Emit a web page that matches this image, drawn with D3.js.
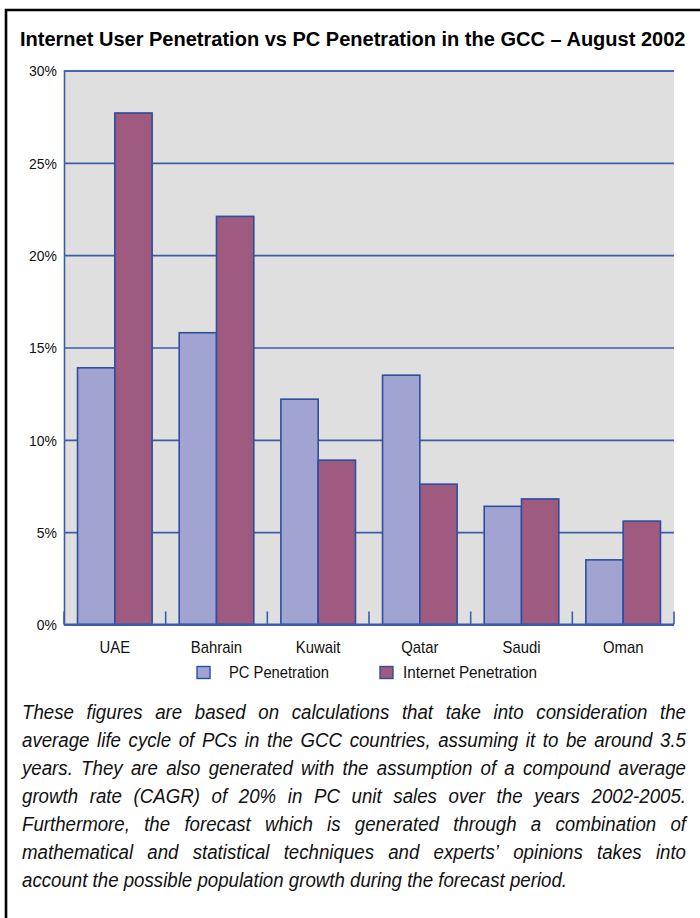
<!DOCTYPE html>
<html>
<head>
<meta charset="utf-8">
<script src="https://cdn.jsdelivr.net/npm/d3@7"></script>
<style>
  html, body { margin: 0; padding: 0; background: #ffffff; }
  svg { display: block; }
</style>
</head>
<body>
<svg id="chart" width="700" height="918"></svg>
<script>
// Penetration rates (%) by GCC country, August 2002
const countries = ["UAE", "Bahrain", "Kuwait", "Qatar", "Saudi", "Oman"];
const pcPenetration = [13.9, 15.8, 12.2, 13.5, 6.4, 3.5];
const internetPenetration = [27.7, 22.1, 8.9, 7.6, 6.8, 5.6];
const seriesNames = ["PC Penetration", "Internet Penetration"];
const yTicks = [0, 5, 10, 15, 20, 25, 30];

const titleText = "Internet User Penetration vs PC Penetration in the GCC \u2013 August 2002";
const captionLines = [
  "These figures are based on calculations that take into consideration the",
  "average life cycle of PCs in the GCC countries, assuming it to be around 3.5",
  "years. They are also generated with the assumption of a compound average",
  "growth rate (CAGR) of 20% in PC unit sales over the years 2002-2005.",
  "Furthermore, the forecast which is generated through a combination of",
  "mathematical and statistical techniques and experts\u2019 opinions takes into",
  "account the possible population growth during the forecast period."
];

const FONT = "'Liberation Sans', Arial, Helvetica, sans-serif";
const colors = { pc: "#a1a4d1", net: "#9f5a7f", edge: "#2d4e9e", grid: "#3d5ca8", plot: "#dfdfdf" };

const svg = d3.select("#chart");

// squeeze a text horizontally about its own anchor x so it spans `width`
function fitWidth(sel, x, width) {
  const w = sel.node().getComputedTextLength();
  const s = width / w;
  sel.attr("transform", `translate(${x},0) scale(${s},1) translate(${-x},0)`);
}
function narrow(sel, x, s) {
  sel.attr("transform", `translate(${x},0) scale(${s},1) translate(${-x},0)`);
}

// outer frame (top and left edges visible)
svg.append("path")
  .attr("d", "M6,930 L6,10 L710,10")
  .attr("fill", "none")
  .attr("stroke", "#000")
  .attr("stroke-width", 2.6);

// title
const title = svg.append("text")
  .attr("x", 20).attr("y", 46)
  .attr("font-family", FONT)
  .attr("font-weight", "bold")
  .attr("font-size", 20.5)
  .attr("fill", "#000")
  .text(titleText);
fitWidth(title, 20, 666);

// plot geometry
const plot = { left: 64, right: 674, top: 70.5, bottom: 624.5 };

const x0 = d3.scaleBand().domain(countries).range([plot.left, plot.right]).padding(0);
const x1 = d3.scaleBand().domain(seriesNames).range([0, x0.bandwidth()])
  .paddingInner(0).paddingOuter(0.363);
const y = d3.scaleLinear().domain([0, 30]).range([plot.bottom, plot.top]);

// plot background
svg.append("rect")
  .attr("x", plot.left).attr("y", plot.top)
  .attr("width", plot.right - plot.left).attr("height", plot.bottom - plot.top)
  .attr("fill", colors.plot);

// horizontal gridlines and percentage labels
const yAxis = d3.axisLeft(y)
  .tickValues(yTicks)
  .tickSize(-(plot.right - plot.left))
  .tickFormat(d => d + "%");
const gy = svg.append("g")
  .attr("transform", `translate(${plot.left},0)`)
  .call(yAxis);
gy.select(".domain").attr("stroke", colors.grid).attr("stroke-width", 1.6);
gy.selectAll(".tick line").attr("stroke", colors.grid).attr("stroke-width", 1.6);
gy.selectAll(".tick text")
  .attr("x", -7)
  .attr("dy", "0.36em")
  .attr("font-family", FONT)
  .attr("font-size", 15)
  .attr("fill", "#111")
  .each(function () { narrow(d3.select(this), -7, 0.93); });

// bars
const rows = countries.map((c, i) => ({
  country: c,
  values: [
    { series: seriesNames[0], value: pcPenetration[i], fill: colors.pc },
    { series: seriesNames[1], value: internetPenetration[i], fill: colors.net }
  ]
}));

svg.append("g").selectAll("g")
  .data(rows)
  .join("g")
  .attr("transform", d => `translate(${x0(d.country)},0)`)
  .selectAll("rect")
  .data(d => d.values)
  .join("rect")
  .attr("x", d => x1(d.series))
  .attr("width", x1.bandwidth())
  .attr("y", d => y(d.value))
  .attr("height", d => y(0) - y(d.value))
  .attr("fill", d => d.fill)
  .attr("stroke", colors.edge)
  .attr("stroke-width", 1.6);

// category axis with inward ticks at band boundaries
svg.append("line")
  .attr("x1", plot.left).attr("x2", plot.right)
  .attr("y1", plot.bottom).attr("y2", plot.bottom)
  .attr("stroke", colors.grid).attr("stroke-width", 1.8);

const boundaries = countries.map(c => x0(c)).concat([plot.right]);
svg.append("g").selectAll("line")
  .data(boundaries)
  .join("line")
  .attr("x1", d => d).attr("x2", d => d)
  .attr("y1", plot.bottom).attr("y2", plot.bottom - 13)
  .attr("stroke", colors.grid).attr("stroke-width", 1.6);

const xAxis = d3.axisBottom(x0).tickSize(0).tickPadding(0);
const gx = svg.append("g")
  .attr("transform", `translate(0,${plot.bottom})`)
  .call(xAxis);
gx.select(".domain").remove();
gx.selectAll(".tick text")
  .attr("y", 28.5)
  .attr("dy", 0)
  .attr("font-family", FONT)
  .attr("font-size", 16)
  .attr("fill", "#111")
  .each(function () { narrow(d3.select(this), 0, 0.93); });

// legend
const legendItems = [
  { name: seriesNames[0], fill: colors.pc, sx: 197, tx: 229, tw: 100 },
  { name: seriesNames[1], fill: colors.net, sx: 380, tx: 403, tw: 134 }
];
const legend = svg.append("g");
legend.selectAll("rect")
  .data(legendItems)
  .join("rect")
  .attr("x", d => d.sx).attr("y", 666.5)
  .attr("width", 13).attr("height", 12)
  .attr("fill", d => d.fill)
  .attr("stroke", colors.edge).attr("stroke-width", 1.4);
legend.selectAll("text")
  .data(legendItems)
  .join("text")
  .attr("x", d => d.tx).attr("y", 678.5)
  .attr("font-family", FONT)
  .attr("font-size", 16)
  .attr("fill", "#111")
  .text(d => d.name)
  .each(function (d) { fitWidth(d3.select(this), d.tx, d.tw); });

// justified italic caption, drawn slightly condensed
const cap = { left: 22, right: 686, firstBaseline: 719, lineGap: 28, size: 21, squeeze: 0.89 };
const capG = svg.append("g")
  .attr("transform", `translate(${cap.left},0) scale(${cap.squeeze},1)`)
  .attr("font-family", FONT)
  .attr("font-style", "italic")
  .attr("font-size", cap.size)
  .attr("fill", "#111");
const capWidth = (cap.right - cap.left) / cap.squeeze;

const probe = capG.append("text").text("a a");
const probe2 = capG.append("text").text("aa");
const spaceW = probe.node().getComputedTextLength() - probe2.node().getComputedTextLength();
probe.remove(); probe2.remove();

captionLines.forEach((line, i) => {
  const words = line.split(" ");
  const yPos = cap.firstBaseline + i * cap.lineGap;
  const nodes = words.map(w => capG.append("text").attr("y", yPos).text(w));
  const widths = nodes.map(n => n.node().getComputedTextLength());
  const total = d3.sum(widths);
  const last = i === captionLines.length - 1;
  const gap = last ? spaceW : (capWidth - total) / (words.length - 1);
  let xPos = 0;
  nodes.forEach((n, k) => {
    n.attr("x", xPos);
    xPos += widths[k] + gap;
  });
});
</script>
</body>
</html>
